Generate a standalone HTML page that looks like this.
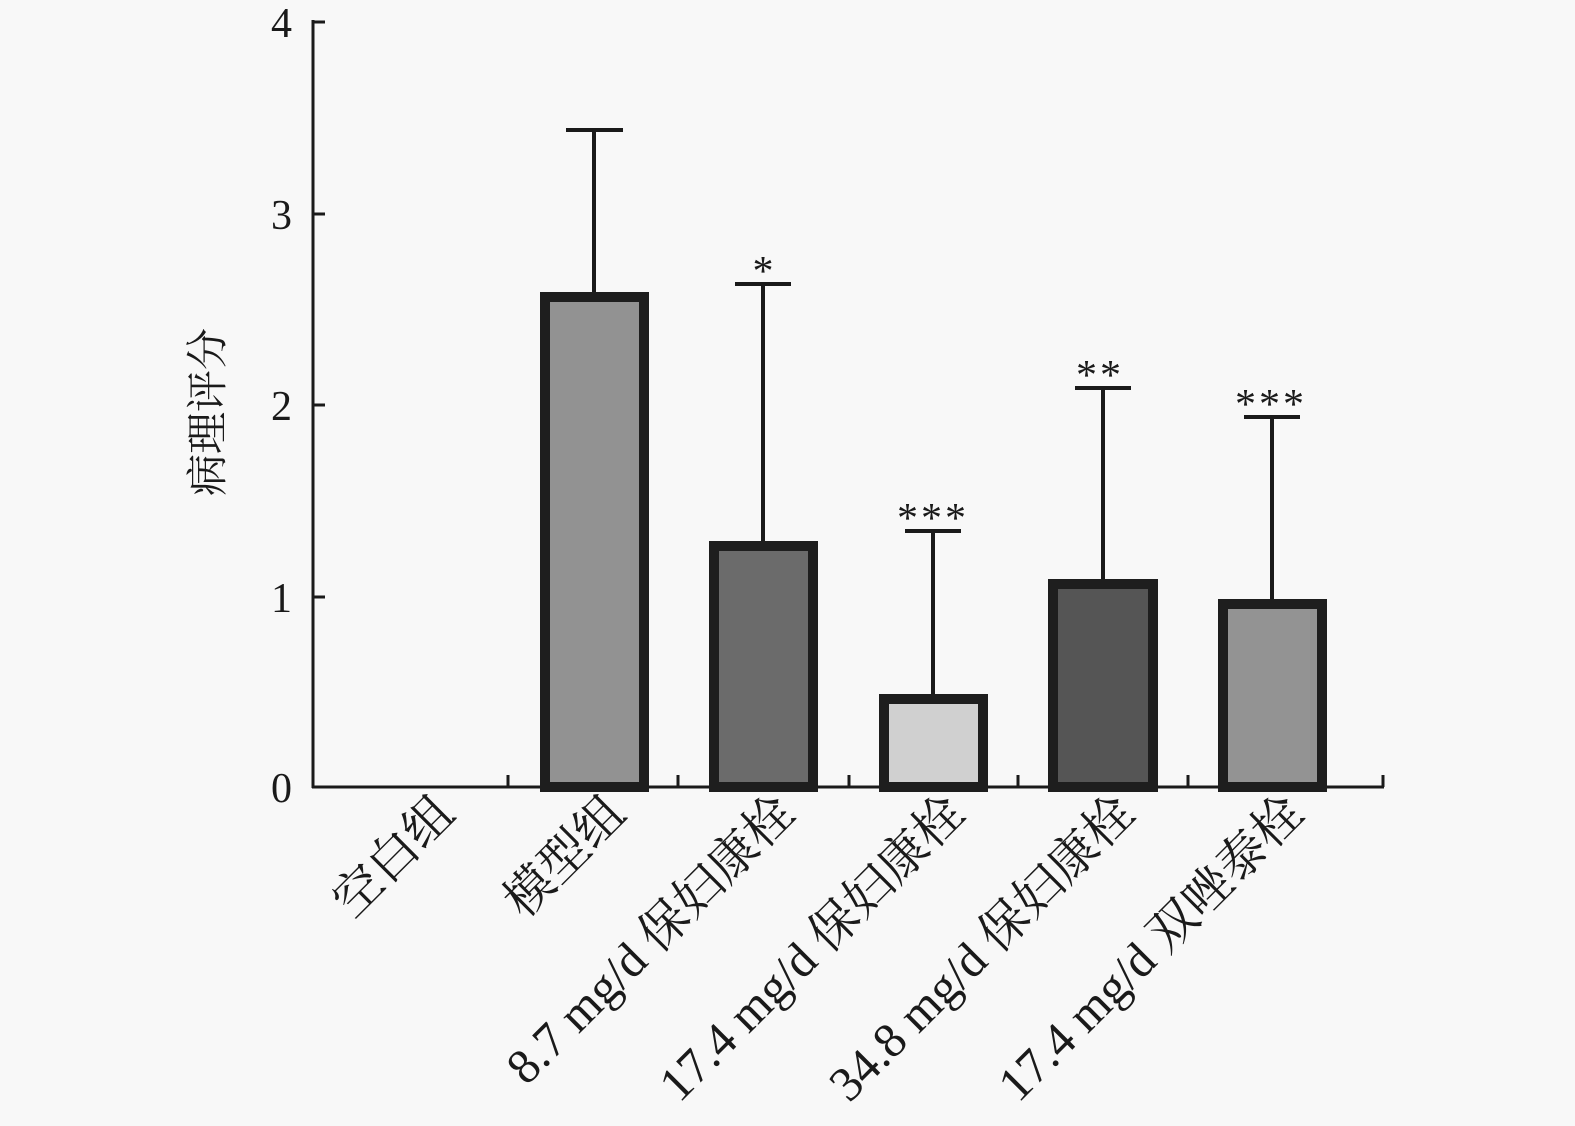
<!DOCTYPE html>
<html><head><meta charset="utf-8"><style>
html,body{margin:0;padding:0;background:#f8f8f8;}
svg{display:block;}
text{font-family:"Liberation Serif","Noto Serif CJK SC","Noto Sans CJK SC",serif;fill:#1a1a1a;}
</style></head><body>
<svg width="1575" height="1126" viewBox="0 0 1575 1126" xmlns="http://www.w3.org/2000/svg">
<rect width="1575" height="1126" fill="#f8f8f8"/>
<g stroke="#1a1a1a" stroke-width="3" fill="none">
<line x1="313" y1="20" x2="313" y2="788"/>
<line x1="312" y1="787" x2="1384" y2="787"/>
<line x1="313" y1="22" x2="325" y2="22"/>
<line x1="313" y1="214" x2="325" y2="214"/>
<line x1="313" y1="405" x2="325" y2="405"/>
<line x1="313" y1="597" x2="325" y2="597"/>
<line x1="508" y1="787" x2="508" y2="775"/>
<line x1="678" y1="787" x2="678" y2="775"/>
<line x1="849" y1="787" x2="849" y2="775"/>
<line x1="1018" y1="787" x2="1018" y2="775"/>
<line x1="1188" y1="787" x2="1188" y2="775"/>
<line x1="1383" y1="787" x2="1383" y2="775"/>
</g>
<g font-size="42" text-anchor="end">
<text x="292" y="37">4</text>
<text x="292" y="229">3</text>
<text x="292" y="420">2</text>
<text x="292" y="612">1</text>
<text x="292" y="802">0</text>
</g>
<text font-size="42" text-anchor="middle" transform="translate(222,412) rotate(-90)">病理评分</text>
<g stroke="#1a1a1a" stroke-width="4">
<line x1="594" y1="130" x2="594" y2="292"/><line x1="566" y1="130" x2="623" y2="130"/>
<line x1="763" y1="284" x2="763" y2="541"/><line x1="735" y1="284" x2="791" y2="284"/>
<line x1="933" y1="531" x2="933" y2="694"/><line x1="905" y1="531" x2="961" y2="531"/>
<line x1="1103" y1="388" x2="1103" y2="579"/><line x1="1075" y1="388" x2="1131" y2="388"/>
<line x1="1272" y1="417" x2="1272" y2="599"/><line x1="1244" y1="417" x2="1300" y2="417"/>
</g>
<g stroke="#1e1e1e" stroke-width="10">
<rect x="545" y="297" width="99" height="490" fill="#929292"/>
<rect x="714" y="546" width="99" height="241" fill="#6b6b6b"/>
<rect x="884" y="699" width="99" height="88" fill="#d0d0d0"/>
<rect x="1053" y="584" width="100" height="203" fill="#555555"/>
<rect x="1223" y="604" width="99" height="183" fill="#939393"/>
</g>
<g font-size="42" text-anchor="middle">
<text x="763" y="285">*</text>
<text x="933" y="532" letter-spacing="3">***</text>
<text x="1100" y="389" letter-spacing="3">**</text>
<text x="1271" y="418" letter-spacing="3">***</text>
</g>
<g font-size="49" text-anchor="end">
<text transform="translate(457,816) rotate(-45)">空白组</text>
<text transform="translate(628,816) rotate(-45)">模型组</text>
<text transform="translate(797,816) rotate(-45)">8.7 mg/d 保妇康栓</text>
<text transform="translate(967,816) rotate(-45)">17.4 mg/d 保妇康栓</text>
<text transform="translate(1137,816) rotate(-45)">34.8 mg/d 保妇康栓</text>
<text transform="translate(1306,816) rotate(-45)">17.4 mg/d 双唑泰栓</text>
</g>
</svg>
</body></html>
